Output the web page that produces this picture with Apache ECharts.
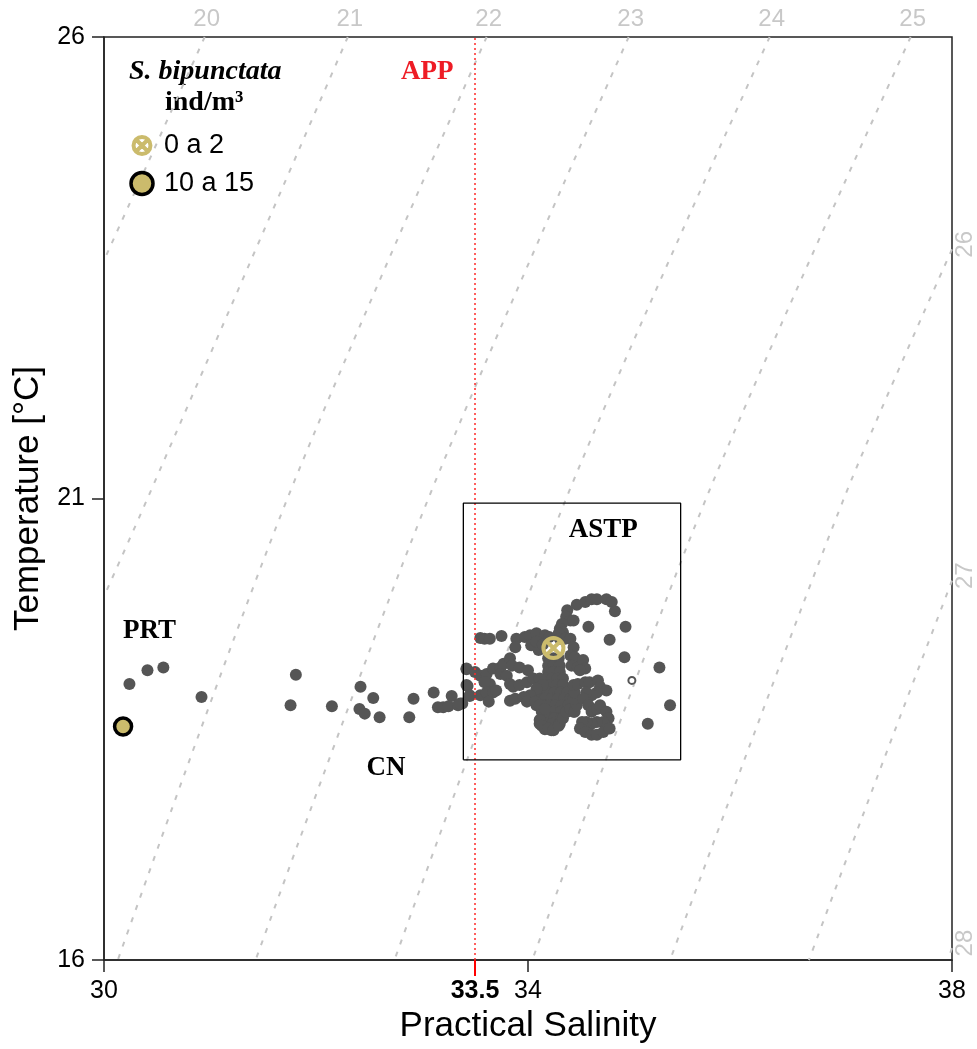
<!DOCTYPE html>
<html><head><meta charset="utf-8">
<script src="https://cdn.jsdelivr.net/npm/echarts@6/dist/echarts.min.js"></script>
<style>html,body{margin:0;padding:0;background:#fff}#c{width:977px;height:1049px}</style>
</head><body><div id="c"></div>
<script>
// ---- data (Practical Salinity, Temperature °C) ----
const salinityRange = [30, 38];
const temperatureRange = [16, 26];
const appSalinity = 33.5;
const astpBoxS = [33.39, 35.44];
const astpBoxT = [18.17, 20.95];

const isoLevels = ['20','21','22','23','24','25','26','27','28'];
const iso20 = [[30.95,26],[30.00,23.58]];
const iso21 = [[32.30,26],[30.41,21],[30.00,19.94]];
const iso22 = [[33.61,26],[31.73,21],[30.13,16]];
const iso23 = [[34.95,26],[33.06,21],[31.43,16]];
const iso24 = [[36.28,26],[34.36,21],[32.74,16]];
const iso25 = [[37.61,26],[35.68,21],[34.04,16]];
const iso26 = [[38.00,23.70],[36.98,21],[35.34,16]];
const iso27 = [[38.00,20.11],[37.30,18],[36.65,16]];
const iso28 = [[38.00,16.13],[37.96,16]];
const isoCurves = [iso20, iso21, iso22, iso23, iso24, iso25, iso26, iso27, iso28];

const prtPoints = [[30.24,18.99],[30.41,19.14],[30.56,19.17]];
const cnPoints = [[30.92,18.85],[31.81,19.09],[31.76,18.76],[32.15,18.75],[32.42,18.96],[32.54,18.84],
  [32.41,18.72],[32.46,18.67],[32.60,18.63],[32.92,18.83],[32.88,18.63],[33.11,18.90],[33.28,18.86],
  [33.15,18.74],[33.20,18.74],[33.25,18.75],[33.34,18.76],[33.38,18.78],[33.42,19.15],[33.43,18.97],[33.45,18.86]];
const astpPoints = [
  [34.46,19.85],[34.54,19.88],[34.60,19.91],[34.65,19.91],[34.74,19.91],[34.79,19.88],[34.82,19.78],
  [34.37,19.79],[34.36,19.72],[34.40,19.68],[34.43,19.68],[34.32,19.64],[34.30,19.59],[34.33,19.55],[34.29,19.54],
  [34.57,19.61],[34.92,19.61],[34.77,19.47],[34.91,19.28],[35.24,19.17],[35.34,18.76],[35.13,18.56],
  [33.55,19.49],[33.59,19.48],[33.64,19.48],[33.75,19.51],
  [33.89,19.48],[33.88,19.39],[33.97,19.50],[34.02,19.52],[34.08,19.54],[34.03,19.41],[34.10,19.36],[34.16,19.52],
  [34.30,19.48],[34.35,19.48],[34.40,19.48],[34.43,19.39],[34.40,19.30],[34.44,19.28],[34.41,19.19],[34.47,19.17],
  [34.52,19.25],[34.54,19.16],[34.49,19.14],[34.08,19.45],[34.14,19.42],[34.20,19.50],
  [34.19,19.27],[34.24,19.27],[34.29,19.27],[34.19,19.19],[34.24,19.19],[34.30,19.19],
  [34.19,19.12],[34.24,19.12],[34.30,19.12],[34.18,19.05],[34.23,19.05],[34.28,19.05],[34.33,19.05],
  [34.16,18.98],[34.21,18.98],[34.27,18.98],[34.33,18.98],
  [34.13,18.90],[34.19,18.90],[34.25,18.90],[34.31,18.90],[34.37,18.90],
  [34.10,18.83],[34.16,18.83],[34.22,18.83],[34.28,18.83],[34.34,18.83],[34.40,18.83],
  [34.08,18.76],[34.14,18.76],[34.20,18.76],[34.26,18.76],[34.32,18.76],[34.38,18.76],
  [34.13,18.69],[34.19,18.69],[34.25,18.69],[34.31,18.69],[34.37,18.69],[34.43,18.69],
  [34.13,18.62],[34.19,18.62],[34.25,18.62],[34.31,18.62],
  [34.11,18.56],[34.17,18.56],[34.23,18.56],[34.30,18.56],[34.16,18.50],[34.22,18.49],
  [33.42,19.16],[33.50,19.12],[33.55,19.08],[33.61,19.10],[33.67,19.16],[33.74,19.17],[33.77,19.21],[33.83,19.27],
  [33.85,19.19],[33.92,19.17],[34.00,19.14],[33.74,19.10],[33.80,19.08],[33.83,18.99],[33.64,18.99],[33.59,19.01],
  [33.42,18.98],[33.45,18.87],[33.55,18.87],[33.61,18.90],[33.67,18.90],[33.70,18.92],[33.63,18.80],[33.83,18.81],
  [33.88,18.83],[33.86,18.96],[33.92,18.98],[33.99,19.01],[34.05,19.05],[34.11,19.05],[34.14,18.98],[34.08,18.94],
  [34.02,18.87],[33.96,18.85],[33.99,18.80],[34.07,18.80],[34.11,18.76],[34.16,18.72],[34.11,18.60],[34.13,18.54],
  [34.19,18.51],[34.24,18.49],[34.29,18.54],[34.33,18.62],[34.36,18.69],[34.40,18.72],[34.44,18.69],[34.46,18.76],
  [34.43,18.83],[34.44,18.90],[34.43,18.98],[34.47,18.99],[34.54,19.01],[34.58,19.01],[34.66,19.03],[34.68,18.96],
  [34.74,18.92],[34.65,18.90],[34.60,18.87],[34.55,18.90],[34.52,18.83],[34.57,18.76],[34.60,18.69],[34.65,18.72],
  [34.68,18.76],[34.74,18.69],[34.76,18.62],[34.71,18.58],[34.65,18.58],[34.60,18.56],[34.55,18.58],[34.51,18.58],
  [34.49,18.51],[34.54,18.47],[34.60,18.44],[34.65,18.44],[34.71,18.47],[34.77,18.51],[33.36,18.78]];
const hollowPoints = [[34.98,19.03]];
const abundance0to2 = [[34.24,19.38]];
const abundance10to15 = [[30.18,18.53]];

const regionNames = ['APP','ASTP','PRT','CN'];
const regionS = [33.05, 34.71, 30.43, 32.66];
const regionT = [25.62, 20.66, 19.56, 18.08];
const regionColors = ['#ee1c25','#000','#000','#000'];

// ---- styles ----
const tan = '#cbbb6c';
const gray = '#555555';
const sans = 'Liberation Sans, Arial, sans-serif';
const serif = 'Liberation Serif, Times New Roman, serif';
const circleX = 'path://M0,-10A10,10,0,1,1,0,10A10,10,0,1,1,0,-10ZM-7.07,-7.07L7.07,7.07M7.07,-7.07L-7.07,7.07';
const circleXLegend = 'path://M-13,-13M13,13M0,-10A10,10,0,1,1,0,10A10,10,0,1,1,0,-10ZM-7.07,-7.07L7.07,7.07M7.07,-7.07L-7.07,7.07';

const series = [];
isoCurves.forEach((c, i) => {
  series.push({type:'line', name:'iso'+isoLevels[i], data:c, symbol:'none', smooth:0.3, silent:true, z:1,
    lineStyle:{color:'#c4c4c4', width:2, type:[5,8]}});
});
series.push({type:'scatter', name:'isoLabels', silent:true, clip:false, z:2, symbolSize:1,
  itemStyle:{color:'rgba(0,0,0,0)', opacity:1},
  data: isoCurves.map((c, i) => {
    const top = c[0][1] === temperatureRange[1];
    return {name: isoLevels[i], value: c[0], label:{show:true, formatter:'{b}', position:'inside',
      color:'#c8c8c8', fontFamily:sans, fontSize:24, opacity:1,
      offset: top ? [2,-18] : [5,13], rotate: top ? 0 : 90}};
  })});
series.push({type:'scatter', name:'ctd', data: prtPoints.concat(cnPoints, astpPoints), symbolSize:12,
  itemStyle:{color:gray, opacity:1}, z:3, silent:true});
series.push({type:'scatter', name:'hollow', data: hollowPoints, symbolSize:7,
  itemStyle:{color:'#fff', borderColor:gray, borderWidth:2, opacity:1}, z:3, silent:true});
series.push({type:'line', name:'APP', data:[[appSalinity, temperatureRange[0]],[appSalinity, temperatureRange[1]]],
  symbol:'none', silent:true, z:4, lineStyle:{color:'#ff2a2a', width:1.5, type:[2,3]}});
series.push({type:'line', name:'ASTPbox', symbol:'none', silent:true, z:4,
  data:[[astpBoxS[0],astpBoxT[0]],[astpBoxS[1],astpBoxT[0]],[astpBoxS[1],astpBoxT[1]],[astpBoxS[0],astpBoxT[1]],[astpBoxS[0],astpBoxT[0]]],
  lineStyle:{color:'#000', width:1.3}});
series.push({type:'scatter', name:'regions', silent:true, clip:false, z:5, symbolSize:1,
  itemStyle:{color:'rgba(0,0,0,0)', opacity:1},
  data: regionNames.map((n, i) => ({name:n, value:[regionS[i], regionT[i]],
    label:{show:true, formatter:'{b}', position:'inside', color:regionColors[i], opacity:1,
      fontFamily:serif, fontWeight:'bold', fontSize:27}}))});
series.push({type:'scatter', name:'0 a 2', data: abundance0to2, symbol: circleX, symbolSize:20, z:6,
  itemStyle:{color:'rgba(0,0,0,0)', borderColor:tan, borderWidth:4, opacity:1}});
series.push({type:'scatter', name:'10 a 15', data: abundance10to15, symbol:'circle', symbolSize:17, z:6,
  itemStyle:{color:tan, borderColor:'#000', borderWidth:3.5, opacity:1}});

const chart = echarts.init(document.getElementById('c'), null, {renderer:'canvas'});
chart.setOption({
  animation:false,
  backgroundColor:'#fff',
  grid:{left:104, right:25, top:37, bottom:87, show:true, borderColor:'#222', borderWidth:1.5, backgroundColor:'transparent'},
  graphic:[
    {type:'text', left:129, top:58, style:{text:'S. bipunctata', font:'italic bold 28px '+serif, fill:'#000'}},
    {type:'text', left:165, top:89, style:{text:'ind/m³', font:'bold 28px '+serif, fill:'#000'}}
  ],
  legend:{orient:'vertical', left:129, top:132, padding:0, itemWidth:22, itemHeight:22, itemGap:11,
    selectedMode:false,
    textStyle:{fontSize:27, fontFamily:sans, color:'#000', padding:[0,0,0,6]},
    data:[
      {name:'0 a 2', icon:circleXLegend, itemStyle:{color:'rgba(0,0,0,0)', borderColor:tan, borderWidth:4, opacity:1}},
      {name:'10 a 15', icon:'circle', itemStyle:{color:tan, borderColor:'#000', borderWidth:3.5, opacity:1}}
    ]},
  xAxis:[
    {type:'value', min:salinityRange[0], max:salinityRange[1], interval:4, position:'bottom',
     name:'Practical Salinity', nameLocation:'middle', nameGap:45,
     nameTextStyle:{fontSize:35, fontFamily:sans, color:'#000'},
     axisLine:{show:true, onZero:false, lineStyle:{color:'#222', width:1.5}},
     axisTick:{show:true, length:12, lineStyle:{color:'#222', width:1.5}},
     axisLabel:{fontSize:25, fontFamily:sans, color:'#000', margin:19},
     splitLine:{show:false}},
    {type:'value', min:salinityRange[0], max:salinityRange[1], position:'bottom', gridIndex:0,
     axisLine:{show:false},
     axisTick:{show:true, length:16, customValues:[appSalinity], lineStyle:{color:'#ff0000', width:2}},
     axisLabel:{show:true, customValues:[appSalinity], fontSize:25, fontWeight:'bold', fontFamily:sans, color:'#000', margin:19,
       formatter: v => String(v)},
     splitLine:{show:false}}
  ],
  yAxis:{type:'value', min:temperatureRange[0], max:temperatureRange[1], interval:5,
     name:'Temperature [°C]', nameLocation:'middle', nameGap:55,
     nameTextStyle:{fontSize:35, fontFamily:sans, color:'#000'},
     axisLine:{show:true, onZero:false, lineStyle:{color:'#222', width:1.5}},
     axisTick:{show:true, length:12, lineStyle:{color:'#222', width:1.5}},
     axisLabel:{fontSize:25, fontFamily:sans, color:'#000', margin:19},
     splitLine:{show:false}},
  series: series
});
</script></body></html>
